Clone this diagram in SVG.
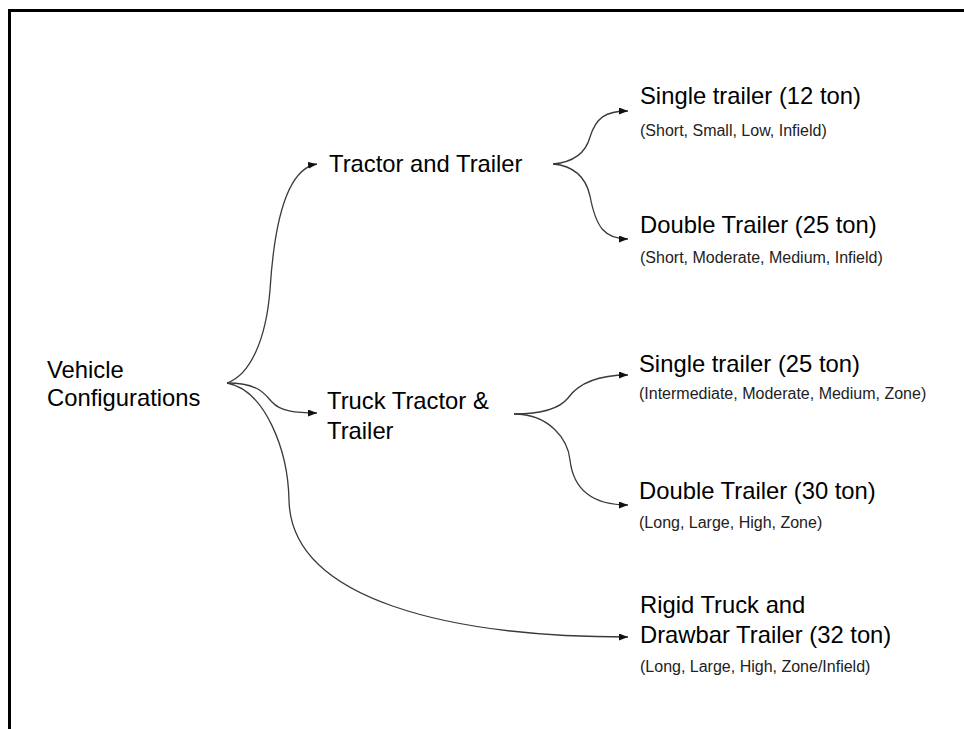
<svg xmlns="http://www.w3.org/2000/svg" width="964" height="729" viewBox="0 0 964 729">
<style>
.big{font-family:"Liberation Sans",Arial,sans-serif;font-size:23.8px;fill:#000}
.small{font-family:"Liberation Sans",Arial,sans-serif;font-size:16px;fill:#222}
.conn{fill:none;stroke:#3a3a3a;stroke-width:1.3}
</style>
<defs>
<marker id="arr" markerUnits="userSpaceOnUse" markerWidth="9" markerHeight="7" refX="9" refY="3.5" orient="auto">
<path d="M0,0 L9,3.5 L0,7 z" fill="#111"/>
</marker>
</defs>
<rect width="964" height="729" fill="#fff"/>
<rect x="9.5" y="10.5" width="1000" height="800" fill="none" stroke="#000" stroke-width="3"/>
<g id="connectors">
<path class="conn" marker-end="url(#arr)" d="M227,383 C250,375 266,340 270,290 C275,210 290,168 317,164"/>
<path class="conn" marker-end="url(#arr)" d="M227,383 C260,383 265,395 272,402 C280,411 295,413 317,413"/>
<path class="conn" marker-end="url(#arr)" d="M227,383 C265,390 288,450 289,500 C291,600 450,637 628,637"/>
<path class="conn" marker-end="url(#arr)" d="M553,164 C575,162 586,152 590,137 C596,118 605,111 628,111"/>
<path class="conn" marker-end="url(#arr)" d="M553,164 C575,166 586,178 590,196 C596,228 605,239 628,239"/>
<path class="conn" marker-end="url(#arr)" d="M514,414 C545,414 560,408 568,398 C578,384 595,375 628,375"/>
<path class="conn" marker-end="url(#arr)" d="M514,414 C550,414 568,440 570,460 C574,495 600,505 628,505"/>
</g>
<g id="vehicle-configurations"><text class="big" x="47" y="378">Vehicle</text><text class="big" x="47" y="406">Configurations</text></g>
<g id="tractor-and-trailer"><text class="big" x="329" y="172">Tractor and Trailer</text></g>
<g id="truck-tractor-trailer"><text class="big" x="327" y="409">Truck Tractor &amp;</text><text class="big" x="327" y="439">Trailer</text></g>
<g id="single-12"><text class="big" x="640" y="104">Single trailer (12 ton)</text><text class="small" x="640" y="136">(Short, Small, Low, Infield)</text></g>
<g id="double-25"><text class="big" x="640" y="233">Double Trailer (25 ton)</text><text class="small" x="640" y="263">(Short, Moderate, Medium, Infield)</text></g>
<g id="single-25"><text class="big" x="639" y="372">Single trailer (25 ton)</text><text class="small" x="639" y="399">(Intermediate, Moderate, Medium, Zone)</text></g>
<g id="double-30"><text class="big" x="639" y="499">Double Trailer (30 ton)</text><text class="small" x="639" y="528">(Long, Large, High, Zone)</text></g>
<g id="rigid-32"><text class="big" x="640" y="613">Rigid Truck and</text><text class="big" x="640" y="643">Drawbar Trailer (32 ton)</text><text class="small" x="640" y="672">(Long, Large, High, Zone/Infield)</text></g>
</svg>
